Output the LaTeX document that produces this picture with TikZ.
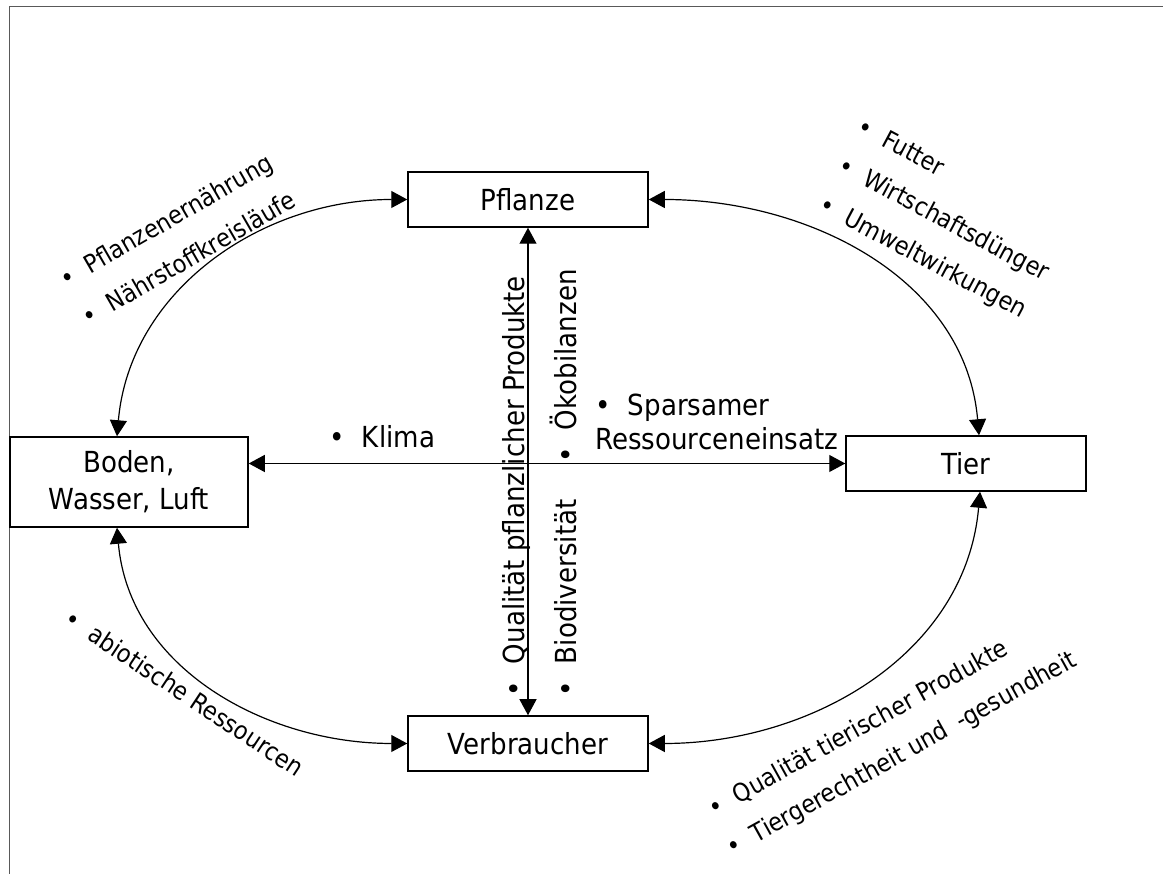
\documentclass[tikz,border=0pt]{standalone}
\usepackage{fontspec}
\setmainfont{DejaVu Sans}[FakeStretch=0.9]
\usetikzlibrary{arrows.meta}
\newcommand{\bul}{\textbullet\hspace{0.6em}}

\begin{document}
\begin{tikzpicture}[x=1pt,y=1pt,>={Triangle[length=16pt,width=17pt]},
  box/.style={draw,line width=1.5pt,minimum width=240pt,minimum height=55pt,inner sep=0pt,align=center,font=\fontsize{29}{37}\selectfont},
  con/.style={<->,line width=1.2pt},
  lab/.style={inner sep=0pt,anchor=base west,font=\fontsize{29}{35}\selectfont},
  sm/.style={lab,font=\fontsize{25}{30}\selectfont}]
\useasboundingbox (0,0) rectangle (1163,874);
\draw[gray!70!black,line width=1pt] (9,0)--(9,867)--(1163,867);
\node[box] (P) at (528,674.5) {Pflanze};
\node[box,minimum width=238pt,minimum height=90pt] (B) at (129,392) {Boden,\\Wasser, Luft};
\node[box] (T) at (966,410.5) {Tier};
\node[box] (V) at (528,130.5) {Verbraucher};
\draw[con] (P.south)--(V.north);
\draw[con] (B.east|-T.west)--(T.west);
\draw[con] (P.west) to[out=180,in=85] ([xshift=-12pt]B.north);
\draw[con] (P.east) to[out=0,in=95] ([xshift=13pt]T.north);
\draw[con] ([xshift=-12pt]B.south) to[out=-85,in=180] (V.west);
\draw[con] ([xshift=14pt]T.south) to[out=-95,in=0] (V.east);
\node[sm,rotate=30] (a1) at (66,585) {\bul Pflanzenernährung};
\node[sm,rotate=30] (a2) at (88,547) {\bul Nährstoffkreisläufe};
\node[sm,rotate=-28] (b1) at (855,742) {\bul Futter};
\node[sm,rotate=-28] (b2) at (836,703) {\bul Wirtschaftsdünger};
\node[sm,rotate=-28] (b3) at (817,664) {\bul Umweltwirkungen};
\node[sm,rotate=29] (c1) at (714,56) {\bul Qualität tierischer Produkte};
\node[sm,rotate=29] (c2) at (732,17) {\bul Tiergerechtheit und\hspace{0.2em} -gesundheit};
\node[sm,rotate=-33.5] (d1) at (62.5,251) {\bul abiotische Ressourcen};
\node[lab] (k) at (329,426) {\bul Klima};
\node[lab] (s1) at (595,458) {\bul Sparsamer};
\node[lab] (s2) at (595,424) {Ressourceneinsatz};
\node[lab,rotate=90] (q) at (524,177) {\bul Qualität pflanzlicher Produkte};
\node[lab,rotate=90] (bd) at (576,177) {\bul Biodiversität};
\node[lab,rotate=90] (oe) at (576,411) {\bul Ökobilanzen};
\end{tikzpicture}
\end{document}
